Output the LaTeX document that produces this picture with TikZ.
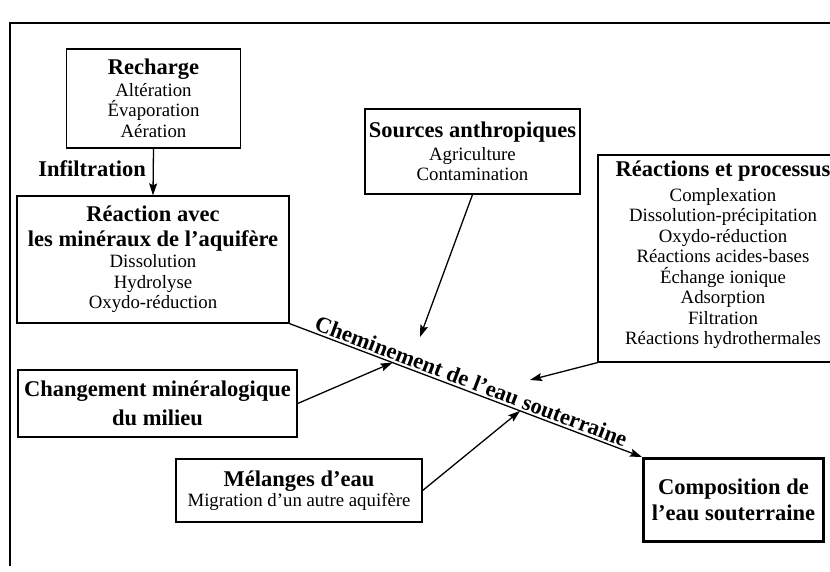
\documentclass[tikz,border=0pt]{standalone}
\usepackage{fontspec}
\setmainfont{Liberation Serif}
\usetikzlibrary{arrows.meta,calc}
\newcommand\bfnt{\fontsize{22.5}{24}\selectfont\bfseries}
\newcommand\rfnt{\fontsize{18.8}{20.5}\selectfont}
\begin{document}
\begin{tikzpicture}[x=1pt,y=-1pt,
  box/.style={draw, line width=1.3pt, align=center, inner sep=0pt, font=\rfnt},
  conn/.style={line width=1.3pt, -{Stealth[length=12pt,width=8pt,inset=2pt]}},
  lbl/.style={font=\bfnt, inner sep=0pt}
]
\useasboundingbox (0,0) rectangle (830,572);
\draw[line width=1.1pt] (10,566) -- (10,23) -- (830,23);

\node[box, minimum width=174pt, minimum height=99pt] (rech) at (153.5,98.5)
  {{\bfnt Recharge}\\[1pt] Altération\\ Évaporation\\ Aération};
\node[box, minimum width=272pt, minimum height=127pt] (reac) at (153,259.5)
  {{\bfnt Réaction avec}\\[4.5pt] {\bfnt les minéraux de l’aquifère}\\[0.5pt] Dissolution\\ Hydrolyse\\ Oxydo-réduction};
\node[box, minimum width=215pt, minimum height=85pt] (src) at (472.5,151.5)
  {{\bfnt Sources anthropiques}\\[2.5pt] Agriculture\\ Contamination};
\node[box, minimum width=250pt, minimum height=207pt, text depth=12pt] (proc) at (723,258.5)
  {{\bfnt Réactions et processus}\\[4.5pt] Complexation\\ Dissolution-précipitation\\ Oxydo-réduction\\ Réactions acides-bases\\ Échange ionique\\ Adsorption\\ Filtration\\ Réactions hydrothermales};
\node[box, font=\bfnt, minimum width=279pt, minimum height=67pt] (chg) at (157.5,403.5)
  {Changement minéralogique\\[4.5pt] du milieu};
\node[box, minimum width=246pt, minimum height=63pt] (mel) at (299,490.5)
  {{\bfnt Mélanges d’eau}\\ Migration d’un autre aquifère};
\node[box, font=\bfnt, line width=3pt, minimum width=180pt, minimum height=83pt] (comp) at (733.5,500)
  {Composition de\\[2.5pt] l’eau souterraine};

\node[lbl, anchor=base east] (inf) at (146,177) {Infiltration};

\draw[conn] (rech.south) -- (reac.north);
\draw[conn] (reac.south east) -- (comp.north west)
  node[pos=0.505, sloped, above, font=\bfnt, inner sep=2pt] (chem) {Cheminement de l’eau souterraine};

\coordinate (mA) at ($(reac.south east)!0.292!(comp.north west)$);
\coordinate (mB) at ($(reac.south east)!0.654!(comp.north west)$);
\coordinate (tS) at (420,337);
\coordinate (tR) at (530,380);

\draw[conn] (src.south) -- (tS);
\draw[conn] (proc.south west) -- (tR);
\draw[conn] (chg.east) -- (mA);
\draw[conn] (mel.east) -- (mB);
\end{tikzpicture}
\end{document}
